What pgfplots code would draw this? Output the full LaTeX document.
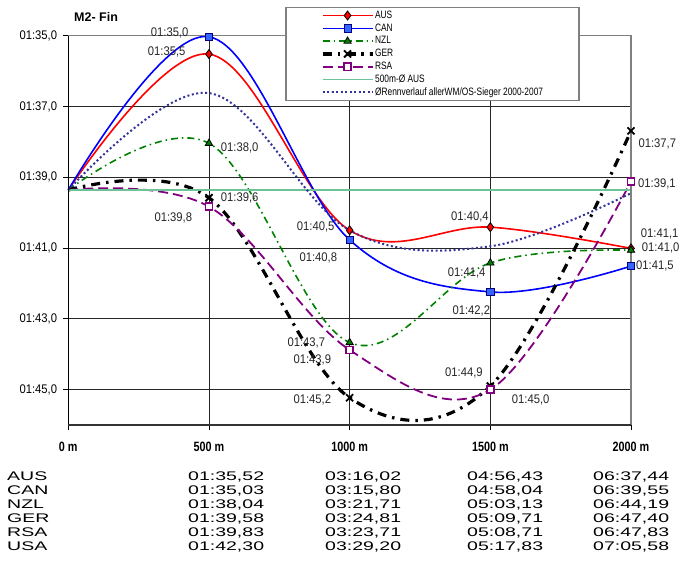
\documentclass[border=0pt]{standalone}
\usepackage{pgfplots}
\pgfplotsset{compat=1.18}
\usepackage{fontspec}
\setmainfont{Liberation Sans}
\newfontfamily\lblfont[FakeStretch=0.9]{Liberation Sans}
\newfontfamily\legfont[FakeStretch=0.78]{Liberation Sans}
\newfontfamily\xfont[FakeStretch=0.8]{Liberation Sans}
\newfontfamily\tabfont[FakeStretch=1.56]{Liberation Sans}
\definecolor{ausred}{RGB}{255,0,0}
\definecolor{canblue}{RGB}{0,0,255}
\definecolor{canfill}{RGB}{51,102,255}
\definecolor{navy}{RGB}{0,0,128}
\definecolor{nzlgreen}{RGB}{0,128,0}
\definecolor{rsapurple}{RGB}{128,0,128}
\definecolor{avggreen}{RGB}{110,195,150}
\definecolor{dotnavy}{RGB}{51,51,153}
\definecolor{framegray}{RGB}{128,128,128}
\newcommand{\lbl}{\lblfont\fontsize{12.5bp}{15bp}\selectfont}
\newcommand{\trow}[6]{%
  \node at (7,#1) {#2};
  \node at (188,#1) {#3};
  \node at (325,#1) {#4};
  \node at (467,#1) {#5};
  \node at (593,#1) {#6};
}
\begin{document}
\begin{tikzpicture}[x=1bp,y=1bp]
\path[use as bounding box] (0,0) rectangle (681,567);
\begin{axis}[
  at={(68.3bp,142bp)}, anchor=south west,
  scale only axis, width=562.7bp, height=389.3bp,
  xmin=0, xmax=2000, ymin=95, ymax=106, y dir=reverse,
  clip=false,
  axis line style={draw=none},
  xtick={0,500,1000,1500,2000},
  xticklabels={0 m,500 m,1000 m,1500 m,2000 m},
  ytick={95,97,99,101,103,105},
  yticklabels={{01:35,0},{01:37,0},{01:39,0},{01:41,0},{01:43,0},{01:45,0}},
  xtick pos=left, ytick pos=left, tick align=outside,
  major tick length=5bp,
  tick style={black, line width=0.8bp},
  grid=major, major grid style={black!85, line width=0.8bp},
  xticklabel style={font=\xfont\bfseries\fontsize{13.5bp}{16bp}\selectfont, inner sep=0pt, anchor=north, yshift=-12bp},
  yticklabel style={font=\lbl, inner sep=0pt, anchor=east, xshift=-6bp},
  legend image code/.code={
    \draw[#1, mark repeat=2, mark phase=2] plot coordinates {(0bp,0bp) (25bp,0bp) (50bp,0bp)};
  },
  legend cell align=left,
  legend style={
    at={(0.3856,1.0737)}, anchor=north west,
    draw=framegray, line width=1.3bp, fill=white,
    inner xsep=35bp, inner ysep=1.5bp,
    font=\legfont\fontsize{10.7bp}{12.8bp}\selectfont,
    row sep=0pt,
    nodes={inner xsep=1bp, inner ysep=1.4bp, text height=7.7bp, text depth=2.3bp},
  },
]
\addplot[ausred, line width=1.6bp, smooth, tension=0.6, mark=diamond*, mark size=4.5bp,
  mark options={solid, fill=ausred, draw=black, line width=0.8bp}, mark phase=2, mark repeat=1]
  coordinates {(0,99.36) (500,95.52) (1000,100.50) (1500,100.41) (2000,101.01)};
\addlegendentry{AUS}
\addplot[canblue, line width=1.6bp, smooth, tension=0.6, mark=square*, mark size=3.6bp,
  mark options={solid, fill=canfill, draw=navy, line width=0.8bp}, mark phase=2, mark repeat=1]
  coordinates {(0,99.36) (500,95.03) (1000,100.77) (1500,102.24) (2000,101.51)};
\addlegendentry{CAN}
\addplot[nzlgreen, line width=1.6bp, smooth, tension=0.6, dash pattern=on 7bp off 4bp on 1.5bp off 4bp,
  mark=triangle*, mark size=4.2bp,
  mark options={solid, fill=nzlgreen, draw=black, line width=0.8bp}, mark phase=2, mark repeat=1]
  coordinates {(0,99.36) (500,98.04) (1000,103.67) (1500,101.42) (2000,101.06)};
\addlegendentry{NZL}
\addplot[black, line width=3.2bp, smooth, tension=0.6, dash pattern=on 9bp off 6bp on 2.5bp off 6bp,
  mark=x, mark size=5bp,
  mark options={solid, draw=black, line width=1.8bp}, mark phase=2, mark repeat=1]
  coordinates {(0,99.36) (500,99.58) (1000,105.23) (1500,104.90) (2000,97.69)};
\addlegendentry{GER}
\addplot[rsapurple, line width=1.8bp, smooth, tension=0.6, dash pattern=on 10bp off 5bp,
  mark=square*, mark size=3.5bp,
  mark options={solid, fill=white, draw=rsapurple, line width=1.5bp}, mark phase=2, mark repeat=1]
  coordinates {(0,99.36) (500,99.83) (1000,103.88) (1500,105.00) (2000,99.12)};
\addlegendentry{RSA}
\addplot[avggreen, line width=1.2bp, no marks]
  coordinates {(0,99.36) (2000,99.36)};
\addlegendentry{500m-Ø AUS}
\addplot[dotnavy, line width=2bp, smooth, tension=0.6, dash pattern=on 2bp off 2.5bp, no marks]
  coordinates {(0,99.36) (500,96.62) (1000,100.50) (1500,100.95) (2000,99.45)};
\addlegendentry{ØRennverlauf allerWM/OS-Sieger 2000-2007}
\draw[framegray, line width=1.5bp] (axis cs:0,95) -- (axis cs:2000,95) -- (axis cs:2000,106);
\draw[black, line width=1bp] (axis cs:0,95) -- (axis cs:0,106);
\draw[black!80, line width=1.5bp] (axis cs:0,106) -- (axis cs:2000,106);
\end{axis}
% title
\node[anchor=base west, inner sep=0pt, font=\bfseries\fontsize{12.5bp}{15bp}\selectfont] at (74,545) {M2- Fin};
% data labels
\begin{scope}[every node/.style={anchor=base west, inner sep=0pt, font=\lbl, text=black!85}]
\node at (150.7,530) {01:35,0};
\node at (147.7,511) {01:35,5};
\node at (220.7,415) {01:38,0};
\node at (220.7,365.3) {01:39,6};
\node at (154.3,345.3) {01:39,8};
\node at (296.7,336.3) {01:40,5};
\node at (299.3,305.3) {01:40,8};
\node at (451,346.3) {01:40,4};
\node at (447.7,290.3) {01:41,4};
\node at (452.3,252) {01:42,2};
\node at (287.3,220.3) {01:43,7};
\node at (293.3,203.7) {01:43,9};
\node at (293.3,163.7) {01:45,2};
\node at (445,190.3) {01:44,9};
\node at (511.7,163.7) {01:45,0};
\node at (638.3,419.3) {01:37,7};
\node at (638,379) {01:39,1};
\node at (640.7,329) {01:41,1};
\node at (641.7,315.3) {01:41,0};
\node at (636,297.7) {01:41,5};
\end{scope}
% table
\begin{scope}[every node/.style={anchor=base west, inner sep=0pt, font=\tabfont\fontsize{12.5bp}{15bp}\selectfont}]
\trow{86}{AUS}{01:35,52}{03:16,02}{04:56,43}{06:37,44}
\trow{72}{CAN}{01:35,03}{03:15,80}{04:58,04}{06:39,55}
\trow{58}{NZL}{01:38,04}{03:21,71}{05:03,13}{06:44,19}
\trow{44}{GER}{01:39,58}{03:24,81}{05:09,71}{06:47,40}
\trow{30}{RSA}{01:39,83}{03:23,71}{05:08,71}{06:47,83}
\trow{16}{USA}{01:42,30}{03:29,20}{05:17,83}{07:05,58}
\end{scope}
\end{tikzpicture}
\end{document}
